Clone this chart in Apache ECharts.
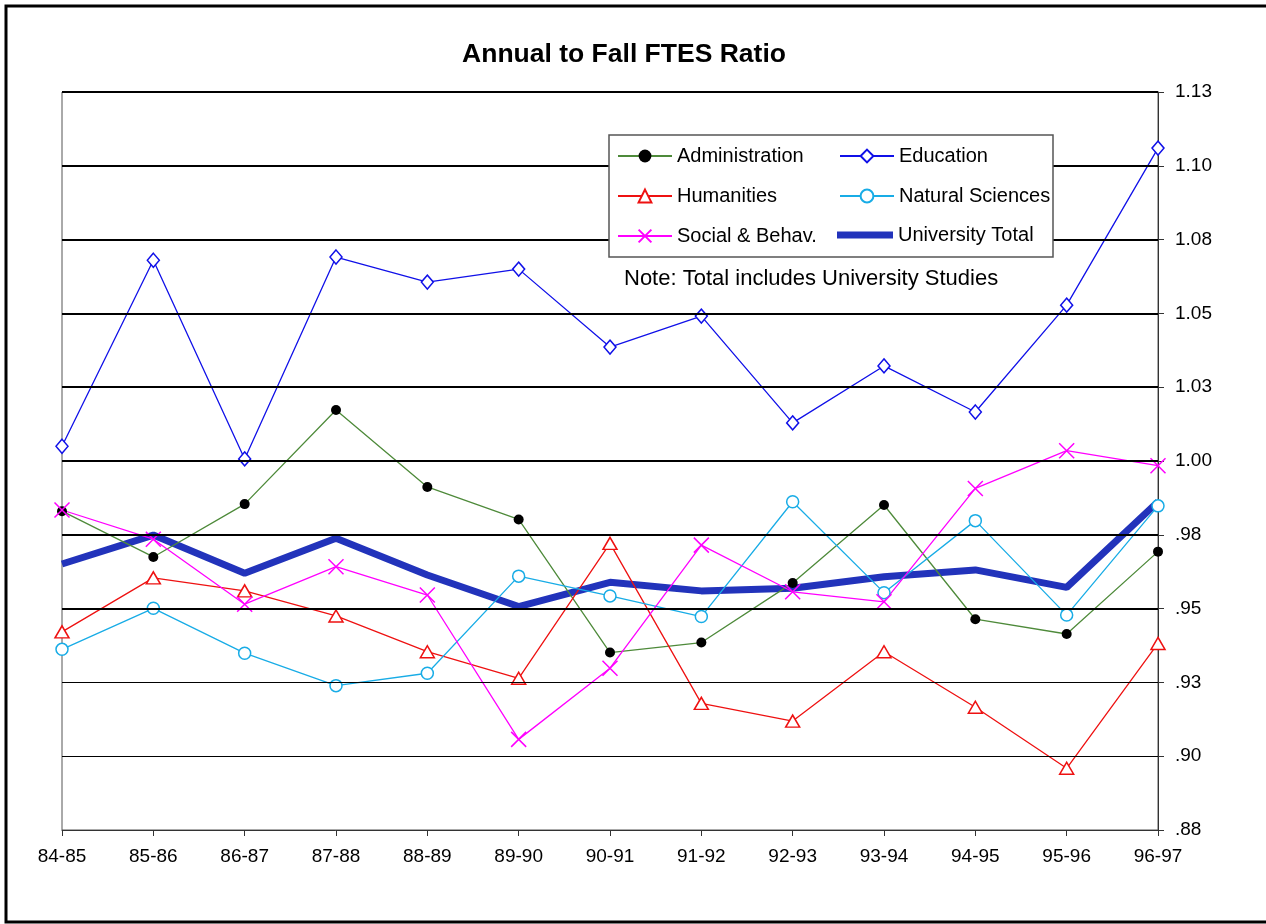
<!DOCTYPE html>
<html>
<head>
<meta charset="utf-8">
<title>Annual to Fall FTES Ratio</title>
<script src="https://cdn.jsdelivr.net/npm/echarts@6/dist/echarts.min.js"></script>
<style>
  html, body { margin: 0; padding: 0; background: #fff; }
  #chart { width: 1266px; height: 924px; }
</style>
</head>
<body>
<div id="chart"></div>
<script>
const YEARS = ['84-85', '85-86', '86-87', '87-88', '88-89', '89-90', '90-91',
  '91-92', '92-93', '93-94', '94-95', '95-96', '96-97'];

const ADMINISTRATION = [0.983, 0.9675, 0.9854, 1.0173, 0.9912, 0.9802, 0.9351,
  0.9385, 0.9587, 0.9851, 0.9464, 0.9414, 0.9693];
const EDUCATION = [1.005, 1.068, 1.0007, 1.0691, 1.0606, 1.065, 1.0386,
  1.0491, 1.0129, 1.0322, 1.0166, 1.0528, 1.106];
const HUMANITIES = [0.9421, 0.9604, 0.956, 0.9475, 0.9354, 0.9264, 0.9721,
  0.9179, 0.9119, 0.9354, 0.9166, 0.8959, 0.9382];
const NATURAL_SCIENCES = [0.9362, 0.9501, 0.9349, 0.9239, 0.9281, 0.961, 0.9543,
  0.9473, 0.9862, 0.9554, 0.9798, 0.9478, 0.9848];
const SOCIAL_BEHAV = [0.9834, 0.9735, 0.9515, 0.9642, 0.9546, 0.9057, 0.9298,
  0.9715, 0.9557, 0.9523, 0.9907, 1.0035, 0.9984];
const UNIVERSITY_TOTAL = [0.9651, 0.9749, 0.962, 0.9738, 0.9614, 0.9507, 0.9589,
  0.956, 0.9569, 0.9608, 0.9631, 0.9572, 0.9862];

// y ticks (labels show two decimals, Excel style)
const Y_TICKS = [0.875, 0.9, 0.925, 0.95, 0.975, 1.0, 1.025, 1.05, 1.075, 1.1, 1.125];

const FONT = "'Liberation Sans', Arial, sans-serif";
const X_MARK = 'path://M0,0L10,10M10,0L0,10';

const fmtTick = v => {
    const s = (Math.round(v * 100 + 1e-6) / 100).toFixed(2);
    return s.startsWith('0') ? s.slice(1) : s;
};

const chart = echarts.init(document.getElementById('chart'));

const thinLine = (name, data, color, extra) => Object.assign({
    name,
    type: 'line',
    data,
    z: 3,
    symbolSize: 12,
    lineStyle: { color, width: 1.3 },
    itemStyle: { color: '#fff', borderColor: color, borderWidth: 1.5 },
    emphasis: { disabled: true },
    animation: false
}, extra);

// legend sits on its own layer so the gridlines stay behind the box
const legendBase = {
    orient: 'vertical',
    padding: 0,
    itemWidth: 54,
    itemHeight: 16,
    itemGap: 20,
    textStyle: { fontFamily: FONT, fontSize: 20, color: '#000' },
    selectedMode: false,
    zlevel: 1,
    z: 6
};

chart.setOption({
    backgroundColor: '#fff',
    title: {
        text: 'Annual to Fall FTES Ratio',
        left: 619,
        textAlign: 'center',
        top: 36,
        textStyle: { fontFamily: FONT, fontSize: 26.5, fontWeight: 'bold', color: '#000' }
    },
    grid: {
        left: 62,
        right: 108,
        top: 92,
        bottom: 94,
        show: true,
        borderColor: '#555',
        borderWidth: 1,
        backgroundColor: '#fff'
    },
    legend: [
        Object.assign({}, legendBase, {
            left: 617,
            top: 146,
            data: ['Administration', 'Humanities', 'Social & Behav.']
        }),
        Object.assign({}, legendBase, {
            left: 839,
            top: 146,
            data: ['Education', 'Natural Sciences']
        }),
        Object.assign({}, legendBase, {
            left: 837,
            top: 225,
            itemWidth: 56,
            itemHeight: 7,
            icon: 'rect',
            data: ['University Total']
        })
    ],
    xAxis: {
        type: 'category',
        data: YEARS,
        boundaryGap: false,
        axisLine: { lineStyle: { color: '#333', width: 1 } },
        axisTick: { show: true, length: 6, lineStyle: { color: '#333' } },
        axisLabel: { fontFamily: FONT, fontSize: 19, color: '#000', margin: 17 },
        splitLine: { show: false }
    },
    yAxis: {
        type: 'value',
        position: 'right',
        min: 0.875,
        max: 1.125,
        interval: 0.025,
        axisLine: { show: true, lineStyle: { color: '#333', width: 1 } },
        axisTick: { show: true, length: 6, lineStyle: { color: '#333' } },
        axisLabel: { fontFamily: FONT, fontSize: 19, color: '#000', margin: 17, formatter: fmtTick },
        splitLine: { show: false }
    },
    graphic: [
        {
            type: 'rect',
            z: 0,
            shape: { x: 6, y: 6, width: 1270, height: 916 },
            style: { fill: 'none', stroke: '#000', lineWidth: 3 },
            silent: true
        },
        {
            type: 'rect',
            zlevel: 1,
            z: 0,
            shape: { x: 609, y: 135, width: 444, height: 122 },
            style: { fill: '#fff', stroke: '#555', lineWidth: 1.5 },
            silent: true
        },
        {
            type: 'text',
            zlevel: 1,
            z: 1,
            left: 624,
            top: 268,
            style: {
                text: 'Note: Total includes University Studies',
                font: '22px ' + FONT,
                fill: '#000'
            },
            silent: true
        }
    ],
    series: [
        {
            name: 'gridlines',
            type: 'line',
            data: YEARS.map(() => null),
            z: 1,
            silent: true,
            animation: false,
            markLine: {
                silent: true,
                symbol: 'none',
                precision: 4,
                label: { show: false },
                animation: false,
                data: Y_TICKS.filter(v => v > 0.88).map(v => ({
                    yAxis: v,
                    lineStyle: { color: '#000', type: 'solid', width: v >= 0.95 ? 2 : 1 }
                }))
            }
        },
        {
            name: 'University Total',
            type: 'line',
            data: UNIVERSITY_TOTAL,
            z: 2,
            showSymbol: false,
            symbol: 'none',
            lineStyle: { color: '#2233BB', width: 7 },
            itemStyle: { color: '#2233BB' },
            emphasis: { disabled: true },
            animation: false
        },
        thinLine('Administration', ADMINISTRATION, '#4E8A3A', {
            symbol: 'circle',
            symbolSize: 10,
            itemStyle: { color: '#000', borderWidth: 0 }
        }),
        thinLine('Education', EDUCATION, '#1010E8', { symbol: 'diamond', symbolSize: [12, 14] }),
        thinLine('Humanities', HUMANITIES, '#EE1111', { symbol: 'triangle', symbolSize: [14, 12] }),
        thinLine('Natural Sciences', NATURAL_SCIENCES, '#18ACE6', { symbol: 'circle', symbolSize: 12 }),
        thinLine('Social & Behav.', SOCIAL_BEHAV, '#FF00FF', {
            symbol: X_MARK,
            symbolSize: 15,
            itemStyle: { color: 'none', borderColor: '#FF00FF', borderWidth: 1.5 }
        })
    ]
});
</script>
</body>
</html>
